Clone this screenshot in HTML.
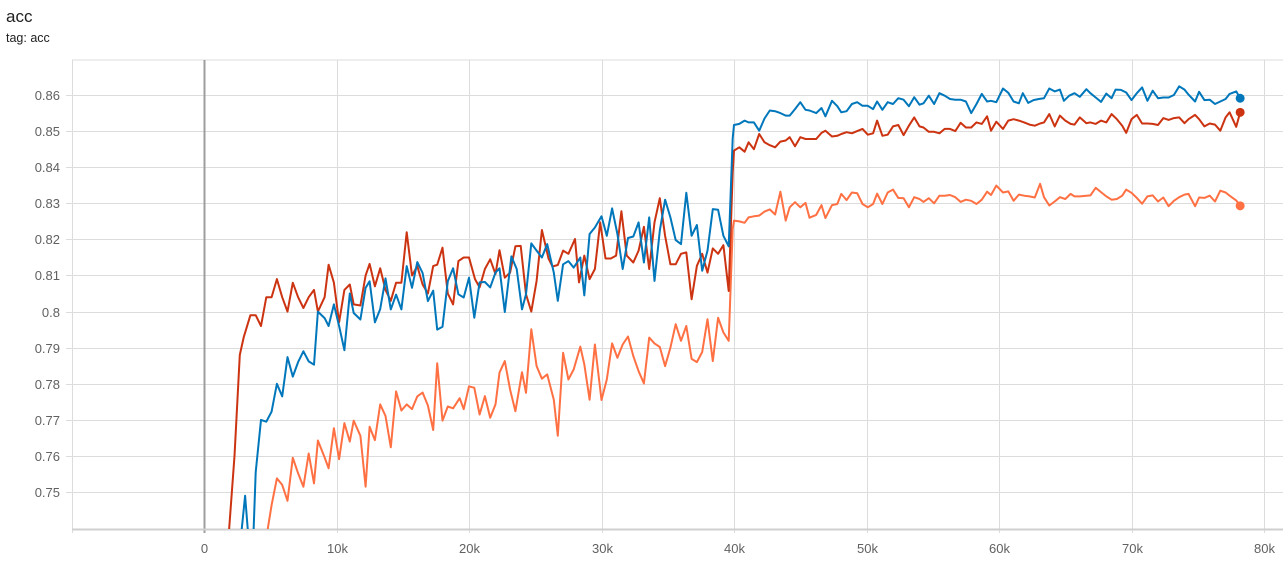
<!DOCTYPE html>
<html><head><meta charset="utf-8"><style>
body{margin:0;background:#fff;width:1283px;height:562px;overflow:hidden;font-family:"Liberation Sans",sans-serif}
#t1{position:absolute;left:6px;top:7px;font-size:17px;color:#212121}
#t2{position:absolute;left:6px;top:31px;font-size:12.5px;color:#212121}
svg{position:absolute;left:0;top:0}
</style></head><body>
<div id="t1">acc</div>
<div id="t2">tag: acc</div>
<svg id="chart" width="1283" height="562"></svg>
<script>
const yTicks=[0.75,0.76,0.77,0.78,0.79,0.8,0.81,0.82,0.83,0.84,0.85,0.86];
const yTickLabels=["0.75","0.76","0.77","0.78","0.79","0.8","0.81","0.82","0.83","0.84","0.85","0.86"];
const xTicks=[0,10,20,30,40,50,60,70,80];
const xTickLabels=["0","10k","20k","30k","40k","50k","60k","70k","80k"];
const blueSteps=[2.8,3.1,3.4,3.7,3.9,4.3,4.7,5.1,5.5,5.9,6.3,6.7,7.1,7.5,7.9,8.3,8.6,9.1,9.4,9.8,10.2,10.6,11.0,11.3,11.8,12.2,12.5,12.9,13.3,13.7,14.1,14.5,14.9,15.3,15.7,16.1,16.5,16.9,17.3,17.6,18.0,18.4,18.8,19.2,19.6,20.0,20.4,20.8,21.2,21.6,22.0,22.3,22.7,23.2,23.6,24.0,24.3,24.7,25.1,25.5,25.9,26.4,26.7,27.1,27.5,27.9,28.4,28.7,29.1,29.5,30.0,30.4,30.8,31.2,31.6,32.0,32.4,32.8,33.2,33.6,34.0,34.4,34.8,35.2,35.6,36.0,36.4,36.8,37.2,37.6,38.0,38.4,38.8,39.2,39.6,39.9,40.0,40.4,40.8,41.1,41.5,41.9,42.3,42.7,43.1,43.5,43.9,44.2,44.6,45.0,45.4,45.7,46.2,46.6,46.9,47.4,47.8,48.1,48.5,48.9,49.3,49.7,50.1,50.5,50.8,51.2,51.6,52.0,52.4,52.8,53.2,53.6,54.0,54.3,54.7,55.1,55.5,55.9,56.3,56.7,57.1,57.5,57.9,58.3,58.7,59.1,59.4,59.8,60.3,60.7,61.1,61.5,61.8,62.2,62.6,63.0,63.4,63.8,64.2,64.6,64.9,65.3,65.7,66.1,66.6,66.9,67.3,67.7,68.1,68.5,68.8,69.2,69.6,70.0,70.4,70.8,71.2,71.6,72.0,72.4,72.8,73.2,73.6,74.0,74.3,74.8,75.1,75.5,75.9,76.3,76.7,77.1,77.4,77.9,78.2];
const blueValues=[0.738,0.749,0.735,0.735,0.7555,0.770,0.7695,0.7723,0.780,0.7765,0.7874,0.782,0.786,0.789,0.7862,0.7853,0.800,0.7982,0.796,0.802,0.796,0.7893,0.805,0.7996,0.7978,0.8066,0.8084,0.797,0.8007,0.8092,0.8006,0.8047,0.8006,0.8126,0.8066,0.8137,0.8107,0.8029,0.8058,0.795,0.7958,0.8084,0.812,0.8048,0.8039,0.8094,0.7983,0.8081,0.8082,0.8067,0.8108,0.812,0.7999,0.8153,0.8118,0.8006,0.8048,0.8189,0.8169,0.815,0.8187,0.8108,0.803,0.8131,0.814,0.8122,0.815,0.8045,0.8215,0.8233,0.8264,0.821,0.8286,0.8215,0.8118,0.8204,0.8208,0.8247,0.8136,0.8261,0.8085,0.8224,0.831,0.8261,0.8198,0.8187,0.8329,0.821,0.824,0.8113,0.8169,0.8284,0.8282,0.821,0.8181,0.848,0.8517,0.852,0.8529,0.8524,0.8524,0.8501,0.8535,0.8557,0.8555,0.855,0.8543,0.8543,0.8561,0.858,0.8559,0.8557,0.855,0.8564,0.8541,0.8584,0.8569,0.8552,0.8555,0.8575,0.858,0.857,0.857,0.8561,0.8582,0.8559,0.858,0.8575,0.8591,0.8587,0.8569,0.8594,0.8573,0.8577,0.8598,0.8575,0.8605,0.8598,0.8589,0.8587,0.8587,0.8582,0.855,0.8575,0.8603,0.8582,0.8584,0.858,0.8618,0.8606,0.8582,0.8577,0.8605,0.8578,0.8586,0.8589,0.8591,0.8618,0.861,0.8615,0.8584,0.8598,0.8605,0.8595,0.8616,0.8605,0.8593,0.8581,0.8604,0.8591,0.8615,0.8614,0.8607,0.8586,0.8605,0.8621,0.8584,0.8612,0.8591,0.8593,0.8593,0.86,0.8624,0.8615,0.8601,0.8582,0.8609,0.8586,0.8587,0.8575,0.8582,0.8589,0.8603,0.861,0.8591];
const redSteps=[1.7,1.9,2.3,2.7,3.0,3.5,3.9,4.3,4.7,5.1,5.5,5.9,6.3,6.7,7.1,7.5,7.9,8.3,8.6,9.1,9.4,9.8,10.2,10.6,11.0,11.3,11.8,12.2,12.5,12.9,13.3,13.7,14.1,14.5,14.9,15.3,15.7,16.1,16.5,16.9,17.3,17.6,18.0,18.4,18.8,19.2,19.6,20.0,20.45,20.8,21.2,21.6,22.0,22.3,22.7,23.1,23.5,23.9,24.3,24.7,25.1,25.5,26.0,26.3,26.7,27.1,27.5,28.0,28.3,28.7,29.1,29.5,29.9,30.3,30.7,31.1,31.5,31.9,32.4,32.8,33.2,33.6,34.0,34.4,34.8,35.2,35.6,36.0,36.4,36.8,37.2,37.6,38.0,38.4,38.8,39.2,39.6,39.9,40.0,40.4,40.8,41.1,41.5,41.9,42.3,42.7,43.1,43.5,43.9,44.2,44.6,45.0,45.4,45.7,46.2,46.6,46.9,47.4,47.8,48.1,48.5,48.9,49.3,49.7,50.1,50.5,50.8,51.2,51.6,52.0,52.4,52.8,53.2,53.6,54.0,54.3,54.7,55.1,55.5,55.9,56.3,56.7,57.1,57.5,57.9,58.3,58.7,59.1,59.4,59.8,60.3,60.7,61.1,61.5,61.9,62.3,62.7,63.1,63.4,63.8,64.2,64.6,65.0,65.4,65.7,66.1,66.6,66.9,67.3,67.7,68.1,68.5,68.9,69.3,69.6,70.0,70.4,70.8,71.2,71.6,72.0,72.4,72.8,73.2,73.6,74.0,74.3,74.8,75.1,75.5,75.9,76.3,76.7,77.1,77.4,77.9,78.2];
const redValues=[0.73,0.740,0.760,0.788,0.793,0.799,0.799,0.796,0.804,0.804,0.809,0.804,0.800,0.808,0.804,0.801,0.804,0.806,0.800,0.804,0.813,0.808,0.797,0.806,0.8075,0.802,0.8017,0.810,0.8132,0.807,0.812,0.806,0.803,0.808,0.808,0.822,0.810,0.8126,0.8075,0.805,0.8126,0.813,0.8177,0.805,0.802,0.814,0.815,0.815,0.809,0.8067,0.8118,0.8145,0.8104,0.817,0.8094,0.8108,0.8181,0.8182,0.8048,0.800,0.8085,0.8226,0.8147,0.8125,0.8129,0.8169,0.816,0.8201,0.8081,0.8155,0.809,0.8118,0.8247,0.8147,0.8147,0.8155,0.8278,0.8155,0.8136,0.8169,0.8235,0.8118,0.8247,0.8314,0.821,0.8131,0.8131,0.816,0.8164,0.8034,0.8127,0.816,0.8108,0.8175,0.816,0.8184,0.8057,0.8386,0.8446,0.8455,0.8443,0.8469,0.845,0.8492,0.8469,0.8461,0.8455,0.8471,0.8474,0.8483,0.8458,0.8483,0.8478,0.8478,0.8478,0.8495,0.8501,0.8485,0.8487,0.8492,0.8497,0.8494,0.85,0.8506,0.849,0.8494,0.8529,0.8487,0.849,0.8513,0.8517,0.8489,0.8515,0.8538,0.8513,0.851,0.8498,0.8498,0.8494,0.8506,0.8506,0.85,0.8523,0.851,0.851,0.8524,0.852,0.8541,0.8501,0.8526,0.8506,0.8529,0.8533,0.8529,0.8524,0.8518,0.8515,0.8521,0.8524,0.8547,0.8513,0.8543,0.8529,0.852,0.8518,0.8538,0.8522,0.8524,0.852,0.8529,0.8524,0.8547,0.8533,0.8515,0.8495,0.8533,0.8545,0.8521,0.8521,0.852,0.8517,0.8536,0.8531,0.8536,0.8538,0.8522,0.8533,0.8545,0.8533,0.8513,0.8521,0.8518,0.8501,0.8538,0.8552,0.8512,0.8552];
const orangeSteps=[4.6,5.1,5.5,5.9,6.3,6.7,7.1,7.5,7.9,8.3,8.6,9.1,9.4,9.8,10.2,10.6,11.0,11.3,11.8,12.2,12.5,12.9,13.3,13.7,14.1,14.5,14.9,15.3,15.7,16.1,16.5,16.9,17.3,17.6,18.0,18.4,18.8,19.3,19.6,20.0,20.4,20.8,21.2,21.6,22.0,22.3,22.7,23.1,23.5,24.0,24.3,24.7,25.1,25.5,25.9,26.4,26.7,27.1,27.5,27.9,28.4,28.7,29.1,29.5,30.0,30.4,30.8,31.2,31.6,32.0,32.4,32.8,33.2,33.6,34.0,34.4,34.8,35.2,35.6,36.0,36.4,36.8,37.2,37.6,38.0,38.4,38.8,39.2,39.6,39.9,40.0,40.4,40.8,41.1,41.5,41.9,42.3,42.7,43.1,43.5,43.9,44.2,44.6,45.0,45.4,45.7,46.2,46.6,46.9,47.4,47.8,48.1,48.5,48.9,49.3,49.7,50.1,50.5,50.8,51.2,51.6,52.0,52.4,52.8,53.2,53.6,54.0,54.3,54.7,55.1,55.5,55.9,56.3,56.7,57.1,57.5,57.9,58.3,58.7,59.1,59.4,59.8,60.3,60.7,61.1,61.5,61.9,62.3,62.7,63.1,63.4,63.8,64.2,64.6,65.0,65.4,65.7,66.1,66.6,66.9,67.3,67.7,68.1,68.5,68.9,69.3,69.6,70.0,70.4,70.8,71.2,71.6,72.0,72.4,72.8,73.2,73.6,74.0,74.3,74.8,75.1,75.5,75.9,76.3,76.7,77.1,77.4,77.9,78.2];
const orangeValues=[0.735,0.7464,0.7538,0.752,0.7476,0.7595,0.7552,0.7515,0.7607,0.7524,0.7643,0.7596,0.7566,0.7677,0.7591,0.7691,0.764,0.7698,0.7656,0.7515,0.7681,0.7644,0.7743,0.7711,0.7624,0.7779,0.7726,0.7743,0.773,0.7765,0.7776,0.774,0.7672,0.7857,0.7698,0.7737,0.7732,0.776,0.773,0.7793,0.7789,0.7715,0.7766,0.7706,0.7743,0.7831,0.7863,0.7784,0.7724,0.7832,0.7775,0.7951,0.7849,0.7814,0.7826,0.7756,0.7656,0.7886,0.7812,0.784,0.7903,0.7854,0.7756,0.7909,0.7755,0.7812,0.7912,0.7872,0.7909,0.7931,0.7877,0.7835,0.7801,0.7928,0.7912,0.7902,0.7849,0.79,0.7965,0.7919,0.796,0.7869,0.786,0.7888,0.7979,0.7863,0.7983,0.7942,0.7919,0.8229,0.8252,0.825,0.8246,0.8261,0.8264,0.8266,0.8277,0.8283,0.8269,0.8332,0.8252,0.8289,0.8303,0.8289,0.8301,0.826,0.8268,0.8295,0.8259,0.8295,0.8298,0.8326,0.8309,0.833,0.8328,0.8298,0.8289,0.8298,0.8327,0.8298,0.833,0.8338,0.8315,0.8314,0.8289,0.8317,0.8312,0.8304,0.8314,0.83,0.8321,0.8321,0.8323,0.8317,0.8304,0.831,0.8307,0.8298,0.831,0.8332,0.8323,0.8349,0.833,0.8333,0.8307,0.8324,0.8321,0.8319,0.8316,0.8354,0.8317,0.8294,0.8305,0.8317,0.8312,0.8326,0.8319,0.8319,0.8321,0.8322,0.8343,0.8331,0.8319,0.831,0.8312,0.8321,0.8338,0.8329,0.8315,0.8299,0.8319,0.8322,0.8305,0.8316,0.8292,0.8307,0.8317,0.8324,0.8326,0.8292,0.8316,0.8315,0.8321,0.8305,0.8335,0.833,0.8321,0.8308,0.8293];

const NS="http://www.w3.org/2000/svg";
const svg=document.getElementById('chart');
const X0=204, XK=13.25, Y0=95, YV=3610, PL=72, PR=1283, PT=60, PB=529;
function xs(k){return X0+k*XK;}
function ys(v){return Y0+(0.86-v)*YV;}
function mk(tag,attrs,parent){const e=document.createElementNS(NS,tag);for(const k in attrs)e.setAttribute(k,attrs[k]);(parent||svg).appendChild(e);return e;}

const defs=mk('defs',{});
const cp=mk('clipPath',{id:'plotclip'},defs);
mk('rect',{x:PL,y:PT,width:PR-PL,height:PB-PT},cp);

const grid=mk('g',{});


mk('line',{x1:PL,y1:PT,x2:PR,y2:PT,stroke:'#dcdcdc','stroke-width':1},grid);
yTicks.forEach((v,i)=>{
  const y=Math.round(ys(v))+0.5;
  const l=mk('line',{x1:PL-6,y1:y,x2:PR,y2:y,stroke:'#dcdcdc','stroke-width':1},grid);
  
  
  const t=mk('text',{x:60,y:y+4.5,'text-anchor':'end','font-size':13,fill:'#616161','font-family':'Liberation Sans, sans-serif'});
  t.textContent=yTickLabels[i];
  
  
});
xTicks.forEach((k,i)=>{
  const x=Math.round(xs(k))+0.5;
  const l=mk('line',{x1:x,y1:PT,x2:x,y2:PB+4,stroke:k===0?'#9e9e9e':'#dcdcdc','stroke-width':k===0?2:1},grid);
  
  
  const t=mk('text',{x:x,y:553,'text-anchor':'middle','font-size':13,fill:'#616161','font-family':'Liberation Sans, sans-serif'});
  t.textContent=xTickLabels[i];
  
  
});
mk('line',{x1:PL+0.5,y1:PT,x2:PL+0.5,y2:PB+4,stroke:'#dcdcdc','stroke-width':1},grid);
mk('line',{x1:PL,y1:PB+0.5,x2:PR,y2:PB+0.5,stroke:'#cfcfcf','stroke-width':2},grid);

const series=[
  {name:'series-orange',steps:orangeSteps,vals:orangeValues,color:'#ff7043'},
  {name:'series-red',steps:redSteps,vals:redValues,color:'#cc3311'},
  {name:'series-blue',steps:blueSteps,vals:blueValues,color:'#0077bb'}
];
series.forEach(s=>{
  const d=s.steps.map((k,i)=>(i?'L':'M')+xs(k).toFixed(1)+','+ys(s.vals[i]).toFixed(1)).join('');
  const p=mk('path',{d:d,fill:'none',stroke:s.color,'stroke-width':2,'stroke-linejoin':'round','clip-path':'url(#plotclip)'});
  
  
  const n=s.steps.length-1;
  const c=mk('circle',{cx:xs(s.steps[n]),cy:ys(s.vals[n]),r:4.5,fill:s.color});
  
  
});
</script>
</body></html>
